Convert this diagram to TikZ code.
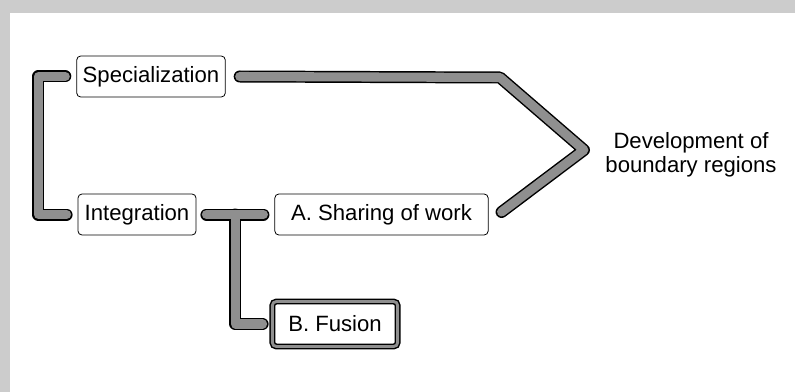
\documentclass[tikz,border=0pt]{standalone}
\usepackage{fontspec}
\setmainfont{Liberation Sans}
\definecolor{pipegray}{RGB}{143,143,143}
\definecolor{framegray}{RGB}{204,204,204}
\usetikzlibrary{calc}

\begin{document}
\begin{tikzpicture}[
  x=0.75pt, y=-0.75pt,
  every node/.style={font=\fontsize{16.6}{18}\selectfont},
  stagebox/.style={draw,rounded corners=3pt,line width=0.6pt,fill=white,
                   minimum height=30.75pt,inner xsep=4.5pt},
  pipe/.style={line width=1.1pt,double=pipegray,double distance=6.8pt,
               line cap=round,line join=round},
]
  % frame
  \fill[framegray] (0,0) rectangle (795,392);
  \fill[white] (10,13) rectangle (795,392);
  \useasboundingbox (0,0) rectangle (795,392);

  % stages
  \node[stagebox,minimum width=111pt] (spec) at (151,76.5) {Specialization};
  \node[stagebox,minimum width=88.5pt] (integ) at (137,214.5) {Integration};
  \node[stagebox,minimum width=160pt] (share) at (381.5,214.5) {A. Sharing of work};
  \node[stagebox,minimum width=94pt,minimum height=33.75pt,line width=1.1pt,
        double=pipegray,double distance=2.2pt] (fusion) at (335,324) {B. Fusion};

  % result
  \node[align=center] (dev) at (691,155) {Development of\\boundary regions};
  \coordinate (bend) at (500,77.5);
  \coordinate (tip) at (584,150);

  % pipes
  \draw[pipe] ($(spec.west)+(-11,0)$) -- ++(-27,0) |- ($(integ.west)+(-11,0)$);
  \draw[pipe] ($(spec.east)+(14,0)$) -- (bend) -- (tip) -- ($(share.east)+(13,-2.5)$);
  \draw[pipe] ($(integ.east)+(10,0)$) -- ($(share.west)+(-11,0)$)
    ($(integ.east)!0.5!(share.west)$) |- ($(fusion.west)+(-9,0)$);
\end{tikzpicture}
\end{document}
